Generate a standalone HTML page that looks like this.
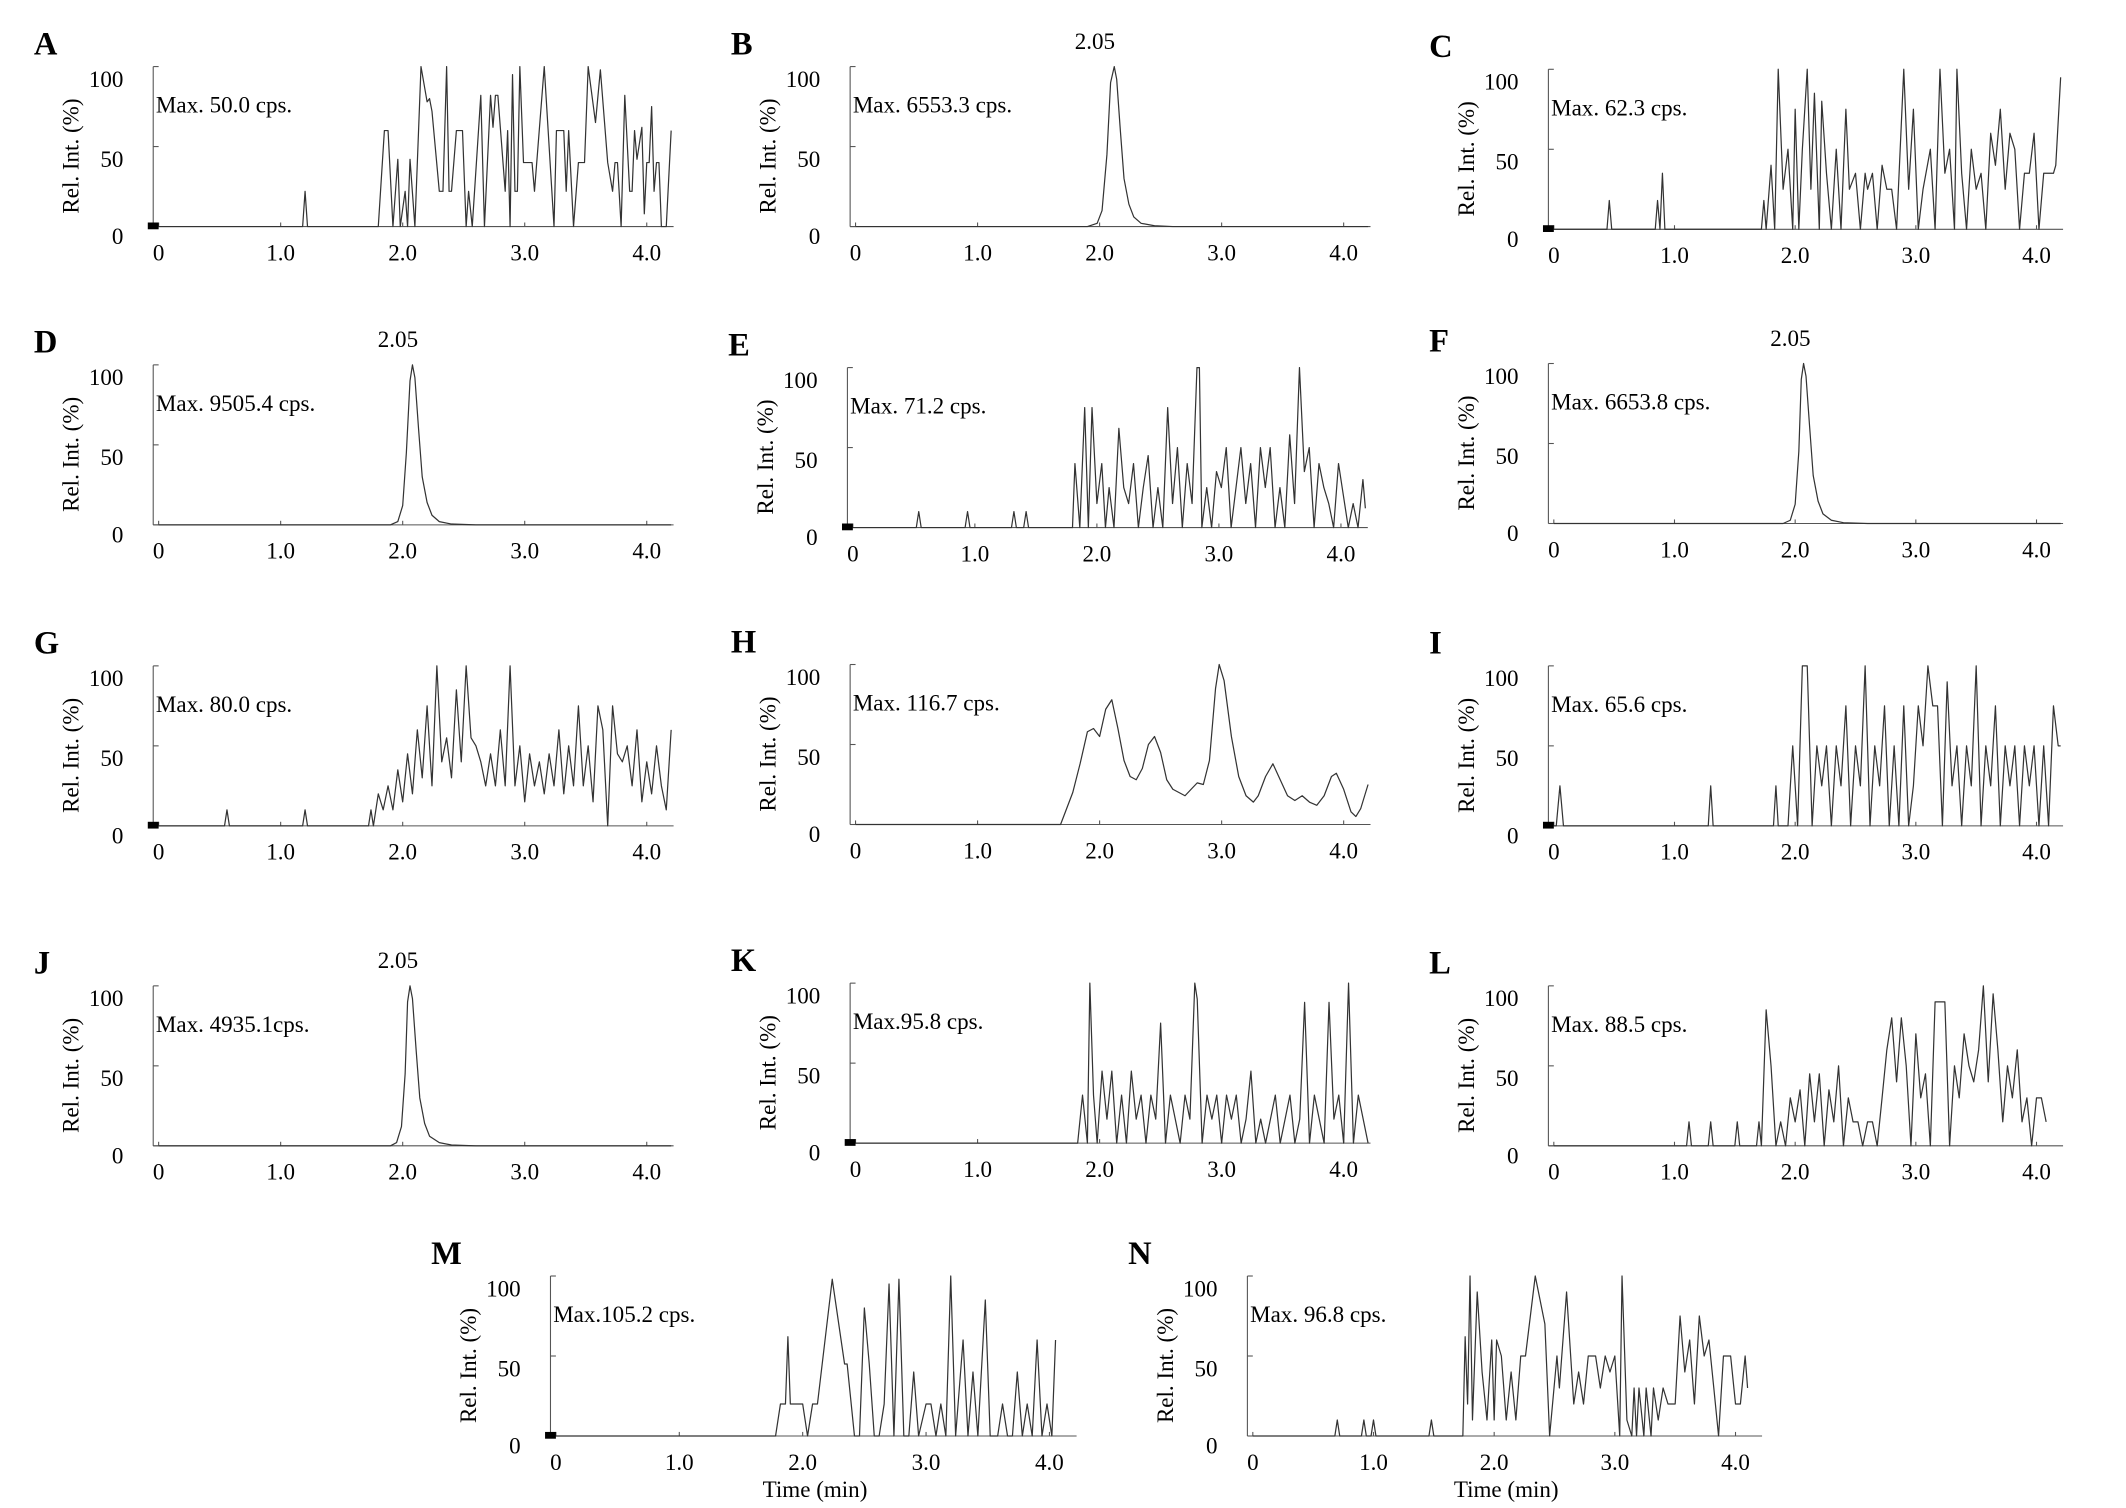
<!DOCTYPE html>
<html><head><meta charset="utf-8"><style>
html,body{margin:0;padding:0;background:#fff;}
svg{display:block;font-family:"Liberation Serif",serif;}
</style></head><body>
<svg id="fig" width="2126" height="1508" viewBox="0 0 1568 1112" xmlns="http://www.w3.org/2000/svg"></svg>
<script>
const dataA=[0,0,1.18,0,1.2,22,1.22,0,1.8,0,1.85,60,1.88,60,1.92,0,1.96,42,1.98,0,2.02,22,2.04,0,2.06,42,2.1,0,2.15,100,2.2,78,2.22,80,2.24,72,2.3,22,2.33,22,2.36,100,2.38,22,2.4,22,2.44,60,2.49,60,2.52,0,2.54,22,2.57,0,2.64,82,2.67,0,2.72,82,2.74,62,2.76,82,2.78,82,2.84,22,2.86,60,2.88,0,2.9,95,2.92,22,2.94,22,2.96,100,2.99,40,3.06,40,3.08,22,3.16,100,3.24,0,3.26,60,3.32,60,3.34,22,3.36,60,3.4,0,3.44,40,3.49,40,3.52,100,3.58,65,3.62,98,3.68,40,3.72,22,3.74,40,3.76,40,3.79,0,3.82,82,3.86,22,3.88,22,3.9,60,3.92,42,3.96,62,3.98,8,4.0,40,4.02,40,4.04,75,4.06,22,4.08,40,4.1,40,4.12,0,4.16,0,4.2,60];
const dataB=[0,0,1.9,0,1.98,2,2.02,10,2.06,45,2.09,90,2.12,100,2.14,92,2.17,60,2.2,30,2.24,14,2.28,6,2.34,2,2.45,0.5,2.6,0,4.2,0];
const dataC=[0,0,0.44,0,0.46,18,0.48,0,0.84,0,0.86,18,0.88,0,0.9,35,0.92,0,1.72,0,1.74,18,1.76,0,1.8,40,1.83,0,1.86,100,1.9,25,1.94,50,1.98,0,2.0,75,2.03,0,2.06,50,2.1,100,2.13,25,2.16,85,2.2,0,2.22,80,2.26,35,2.3,0,2.34,50,2.38,0,2.42,75,2.45,25,2.5,35,2.54,0,2.58,35,2.6,25,2.64,35,2.68,0,2.72,40,2.76,25,2.8,25,2.84,0,2.9,100,2.94,25,2.98,75,3.02,0,3.06,25,3.12,50,3.16,0,3.2,100,3.24,35,3.28,50,3.32,0,3.34,100,3.38,35,3.42,0,3.46,50,3.5,25,3.54,35,3.58,0,3.62,60,3.66,40,3.7,75,3.74,25,3.78,60,3.82,50,3.86,0,3.9,35,3.94,35,3.98,60,4.02,0,4.06,35,4.1,35,4.14,35,4.16,40,4.2,95];
const dataD=[0,0,1.9,0,1.96,2,2.0,12,2.03,45,2.06,90,2.08,100,2.1,92,2.13,60,2.16,30,2.2,14,2.24,6,2.3,2,2.4,0.5,2.6,0,4.2,0];
const dataE=[0,0,0.52,0,0.54,10,0.56,0,0.92,0,0.94,10,0.96,0,1.3,0,1.32,10,1.34,0,1.4,0,1.42,10,1.44,0,1.8,0,1.82,40,1.86,0,1.9,75,1.93,0,1.96,75,2.0,15,2.04,40,2.07,0,2.1,25,2.14,0,2.18,62,2.22,25,2.26,15,2.3,40,2.34,0,2.38,25,2.42,45,2.46,0,2.5,25,2.54,0,2.58,75,2.62,15,2.66,50,2.7,0,2.74,40,2.78,15,2.82,100,2.84,100,2.86,0,2.9,25,2.94,0,2.98,35,3.02,25,3.06,50,3.1,0,3.14,25,3.18,50,3.22,15,3.26,40,3.3,0,3.34,50,3.38,25,3.42,50,3.46,0,3.5,25,3.54,0,3.58,58,3.62,15,3.66,100,3.7,35,3.74,50,3.78,0,3.82,40,3.86,25,3.9,15,3.94,0,3.98,40,4.02,20,4.06,0,4.1,15,4.14,0,4.18,30,4.2,12];
const dataF=[0,0,1.9,0,1.96,2,2.0,12,2.03,45,2.05,90,2.07,100,2.09,92,2.12,60,2.15,30,2.19,14,2.23,6,2.3,2,2.4,0.5,2.6,0,4.2,0];
const dataG=[0,0,0.54,0,0.56,10,0.58,0,1.18,0,1.2,10,1.22,0,1.72,0,1.74,10,1.76,0,1.8,20,1.84,10,1.88,25,1.92,10,1.96,35,2.0,15,2.04,45,2.08,20,2.12,60,2.16,30,2.2,75,2.24,25,2.28,100,2.32,40,2.36,55,2.4,30,2.44,85,2.48,40,2.52,100,2.56,55,2.6,50,2.64,40,2.68,25,2.72,45,2.76,25,2.8,60,2.84,25,2.88,100,2.92,25,2.96,50,3.0,15,3.04,45,3.08,25,3.12,40,3.16,20,3.2,45,3.24,25,3.28,60,3.32,20,3.36,50,3.4,25,3.44,75,3.48,25,3.52,50,3.56,15,3.6,75,3.64,60,3.68,0,3.72,75,3.76,45,3.8,40,3.84,50,3.88,25,3.92,60,3.96,15,4.0,40,4.04,20,4.08,50,4.12,25,4.16,10,4.2,60];
const dataH=[0,0,1.68,0,1.72,8,1.78,20,1.84,38,1.9,58,1.95,60,2.0,55,2.05,72,2.1,78,2.15,60,2.2,40,2.25,30,2.3,28,2.35,35,2.4,50,2.45,55,2.5,45,2.55,28,2.6,22,2.65,20,2.7,18,2.75,22,2.8,26,2.85,25,2.9,40,2.95,85,2.98,100,3.02,90,3.08,55,3.14,30,3.2,18,3.26,14,3.3,18,3.36,30,3.42,38,3.48,28,3.54,18,3.6,15,3.66,18,3.72,14,3.78,12,3.84,18,3.9,30,3.94,32,4.0,22,4.06,8,4.1,5,4.14,10,4.2,25];
const dataI=[0,0,0.02,0,0.05,25,0.08,0,1.28,0,1.3,25,1.32,0,1.82,0,1.84,25,1.86,0,1.94,0,1.98,50,2.02,0,2.06,100,2.1,100,2.14,0,2.18,50,2.22,25,2.26,50,2.3,0,2.34,50,2.38,25,2.42,75,2.46,0,2.5,50,2.54,25,2.58,100,2.62,0,2.66,50,2.7,25,2.74,75,2.78,0,2.82,50,2.86,0,2.9,75,2.94,0,2.98,25,3.02,75,3.06,50,3.1,100,3.14,75,3.18,75,3.22,0,3.26,90,3.3,25,3.34,50,3.38,0,3.42,50,3.46,25,3.5,100,3.54,0,3.58,50,3.62,25,3.66,75,3.7,0,3.74,50,3.78,25,3.82,50,3.86,0,3.9,50,3.94,25,3.98,50,4.02,0,4.06,50,4.1,0,4.14,75,4.18,50,4.2,50];
const dataJ=[0,0,1.9,0,1.95,2,1.99,12,2.02,45,2.04,90,2.06,100,2.08,92,2.11,60,2.14,30,2.18,14,2.22,6,2.3,2,2.4,0.5,2.6,0,4.2,0];
const dataK=[0,0,1.82,0,1.86,30,1.9,0,1.92,100,1.95,30,1.98,0,2.02,45,2.06,15,2.1,45,2.14,0,2.18,30,2.22,0,2.26,45,2.3,15,2.34,30,2.38,0,2.42,30,2.46,15,2.5,75,2.54,0,2.58,30,2.62,15,2.66,0,2.7,30,2.74,15,2.78,100,2.8,90,2.84,0,2.88,30,2.92,15,2.96,30,3.0,0,3.04,30,3.08,15,3.12,30,3.16,0,3.2,15,3.24,45,3.28,0,3.32,15,3.36,0,3.4,15,3.44,30,3.48,0,3.52,15,3.56,30,3.6,0,3.64,15,3.68,88,3.72,0,3.76,30,3.8,15,3.84,0,3.88,88,3.92,15,3.96,30,4.0,0,4.04,100,4.08,0,4.12,30,4.16,15,4.2,0];
const dataL=[0,0,1.1,0,1.12,15,1.14,0,1.28,0,1.3,15,1.32,0,1.5,0,1.52,15,1.54,0,1.68,0,1.7,15,1.72,0,1.76,85,1.8,50,1.84,0,1.88,15,1.92,0,1.96,30,2.0,15,2.04,35,2.08,0,2.12,45,2.16,15,2.2,45,2.24,0,2.28,35,2.32,15,2.36,50,2.4,0,2.44,30,2.48,15,2.52,15,2.56,0,2.6,15,2.64,15,2.68,0,2.72,30,2.76,60,2.8,80,2.84,40,2.88,80,2.92,50,2.96,0,3.0,70,3.04,30,3.08,45,3.12,0,3.16,90,3.2,90,3.24,90,3.28,0,3.32,50,3.36,30,3.4,70,3.44,50,3.48,40,3.52,60,3.56,100,3.6,40,3.64,95,3.68,60,3.72,15,3.76,50,3.8,30,3.84,60,3.88,15,3.92,30,3.96,0,4.0,30,4.04,30,4.08,15];
const dataM=[0,0,1.78,0,1.82,20,1.86,20,1.88,62,1.9,20,2.0,20,2.04,0,2.08,20,2.12,20,2.24,98,2.34,45,2.36,45,2.42,0,2.46,0,2.5,80,2.54,45,2.58,0,2.62,0,2.66,20,2.7,95,2.74,0,2.78,98,2.82,0,2.86,0,2.9,40,2.94,0,3.0,20,3.04,20,3.08,0,3.12,20,3.16,0,3.2,100,3.24,0,3.3,60,3.34,0,3.38,40,3.42,0,3.48,85,3.52,0,3.58,0,3.62,20,3.66,0,3.7,0,3.74,40,3.78,0,3.82,20,3.86,0,3.9,60,3.94,0,3.98,20,4.02,0,4.05,60];
const dataN=[0,0,0.68,0,0.7,10,0.72,0,0.9,0,0.92,10,0.94,0,0.98,0,1.0,10,1.02,0,1.46,0,1.48,10,1.5,0,1.74,0,1.76,62,1.78,20,1.8,100,1.82,10,1.86,90,1.9,40,1.94,10,1.98,60,2.0,10,2.02,60,2.06,50,2.1,10,2.14,40,2.18,10,2.22,50,2.26,50,2.34,100,2.42,70,2.46,0,2.52,50,2.54,30,2.6,90,2.66,20,2.7,40,2.74,20,2.78,50,2.84,50,2.88,30,2.92,50,2.96,40,3.0,50,3.04,0,3.06,100,3.1,10,3.14,0,3.16,30,3.18,0,3.2,30,3.24,0,3.26,30,3.3,0,3.32,30,3.36,10,3.4,30,3.44,20,3.5,20,3.54,75,3.58,40,3.62,60,3.66,20,3.7,75,3.74,50,3.78,60,3.82,30,3.86,0,3.9,50,3.96,50,4.0,20,4.04,20,4.08,50,4.1,30];
const panelLetters=["A","B","C","D","E","F","G","H","I","J","K","L","M","N"];
const maxTexts=["Max. 50.0 cps.","Max. 6553.3 cps.","Max. 62.3 cps.","Max. 9505.4 cps.","Max. 71.2 cps.","Max. 6653.8 cps.","Max. 80.0 cps.","Max. 116.7 cps.","Max. 65.6 cps.","Max. 4935.1cps.","Max.95.8 cps.","Max. 88.5 cps.","Max.105.2 cps.","Max. 96.8 cps."];
const xTickVals=[0,1,2,3,4];
const xTickLabels=["0","1.0","2.0","3.0","4.0"];
const yTickVals=[0,50,100];
const yTickLabels=["0","50","100"];
const peakLabel="2.05";
const allData=[dataA,dataB,dataC,dataD,dataE,dataF,dataG,dataH,dataI,dataJ,dataK,dataL,dataM,dataN];
const peakTimes=[null,2.05,null,2.05,null,2.05,null,null,null,2.05,null,null,null,null];

const layout=[
 [113,167,90,1],[627,167,90,0],[1142,169,89,1],
 [113,387,90,0],[625,389,90,1],[1142,386,89,0],
 [113,609,90,1],[627,608,90,0],[1142,609,89,1],
 [113,845,90,0],[627,843,90,1],[1142,845,89,0],
 [406,1059,91,1],[920,1059,89,0]
];
const NS="http://www.w3.org/2000/svg";
const svg=document.getElementById('fig');
function mk(tag,attrs,parent,text){const e=document.createElementNS(NS,tag);for(const k in attrs)e.setAttribute(k,attrs[k]);if(text!==undefined)e.textContent=text;(parent||svg).appendChild(e);return e;}

for(let i=0;i<14;i++){
  const [X,Z,ppm,mark]=layout[i];
  const x0=X+4;
  const xs=t=>x0+t*ppm;
  const ys=v=>Z-v*1.18;
  const g=mk('g',{});
  
  
  const L=mk('text',{x:X-88,y:Z-127,'font-size':24,'font-weight':'bold'},g,panelLetters[i]);
  
  
  const yax=mk('line',{x1:X,y1:ys(100),x2:X,y2:Z,stroke:'#555','stroke-width':0.8},g);
  
  
  const xax=mk('line',{x1:X,y1:Z,x2:xs(4.22),y2:Z,stroke:'#555','stroke-width':0.8},g);
  
  
  yTickVals.forEach((v,k)=>{
    mk('line',{x1:X,y1:ys(v),x2:X+4,y2:ys(v),stroke:'#555','stroke-width':0.8},g);
    const t=mk('text',{x:X-22,y:(v===0?Z+13:ys(v)+15),'font-size':17,'text-anchor':'end'},g,yTickLabels[k]);
    
    
  });
  xTickVals.forEach((v,k)=>{
    mk('line',{x1:xs(v),y1:Z,x2:xs(v),y2:Z-3,stroke:'#555','stroke-width':0.8},g);
    const t=mk('text',{x:xs(v),y:Z+25,'font-size':17,'text-anchor':'middle'},g,xTickLabels[k]);
    
    
  });
  const yl=mk('text',{x:0,y:0,'font-size':17,'text-anchor':'middle',transform:`translate(${X-55},${Z-52}) rotate(-90)`},g,'Rel. Int. (%)');
  
  
  const mt=mk('text',{x:X+2,y:Z-84,'font-size':17},g,maxTexts[i]);
  
  
  if(mark){const m=mk('rect',{x:X-4,y:Z-3,width:8,height:5,fill:'#000'},g);
    
    }
  const d=allData[i];let p='';
  for(let j=0;j<d.length;j+=2)p+=(j?'L':'M')+xs(d[j]).toFixed(1)+','+ys(d[j+1]).toFixed(1);
  const path=mk('path',{d:p,fill:'none',stroke:'#333','stroke-width':0.9,'stroke-linejoin':'round'},g);
  
  
  if(peakTimes[i]!==null){
    const pl=mk('text',{x:xs(peakTimes[i])-8,y:Z-131,'font-size':17,'text-anchor':'middle'},g,peakLabel);
    
    
  }
  if(i>=12){
    const tt=mk('text',{x:xs(2.1),y:Z+45,'font-size':17,'text-anchor':'middle'},g,'Time (min)');
    
    
  }
}
</script>
</body></html>
